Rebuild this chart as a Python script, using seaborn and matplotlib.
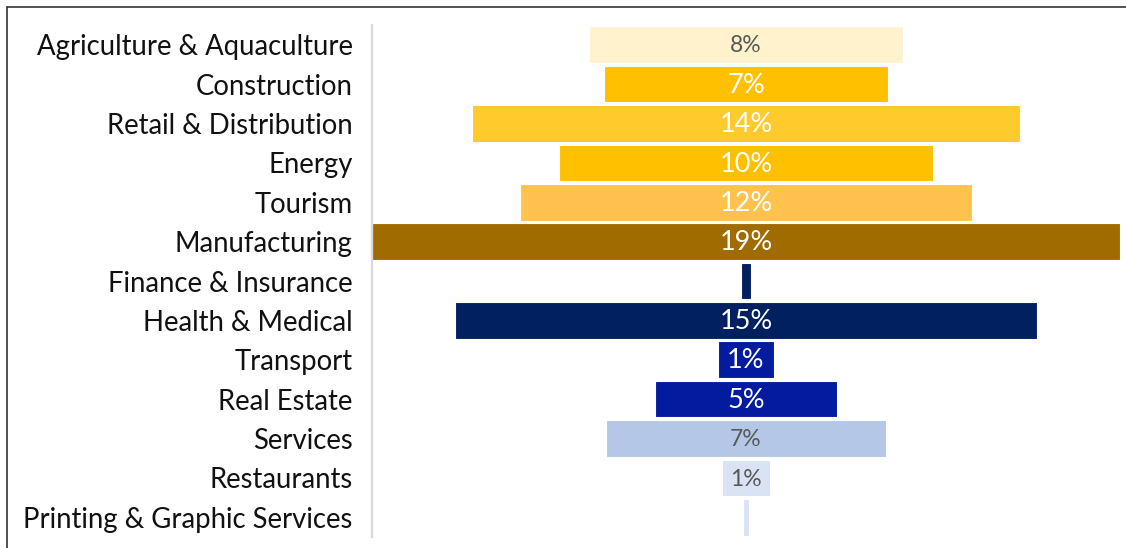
import matplotlib
matplotlib.use("Agg")
import matplotlib.pyplot as plt
from matplotlib.lines import Line2D
import seaborn as sns
import pandas as pd

# Share of businesses by industry (%)
industries = [
    "Agriculture & Aquaculture", "Construction", "Retail & Distribution", "Energy",
    "Tourism", "Manufacturing", "Finance & Insurance", "Health & Medical",
    "Transport", "Real Estate", "Services", "Restaurants",
    "Printing & Graphic Services",
]
shares = [8.0, 7.2, 13.9, 9.5, 11.5, 19.0, 0.25, 14.8, 1.4, 4.6, 7.1, 1.2, 0.15]
bar_colors = [
    "#FFF2CC", "#FFC000", "#FFCA2C", "#FFC000", "#FFC24C", "#A06B00",
    "#002060", "#002060", "#031B9E", "#031B9E", "#B4C7E7", "#DAE3F3", "#DAE3F3",
]
# labels are only printed on bars wide enough to hold them
show_label = [True, True, True, True, True, True, False, True, True, True, True, True, False]
light_bars = {"#FFF2CC", "#B4C7E7", "#DAE3F3"}

df = pd.DataFrame({"industry": industries, "share": shares})

sns.set_theme(style="white")
plt.rcParams["font.family"] = ["Lato", "DejaVu Sans"]

fig = plt.figure(figsize=(11.26, 5.48), dpi=100)
ax = fig.add_axes([372 / 1126, 11 / 548, 748 / 1126, 512 / 548])

sns.barplot(
    data=df, x="share", y="industry", hue="industry", palette=bar_colors,
    order=industries, hue_order=industries, legend=False, width=0.93,
    saturation=1, edgecolor="white", linewidth=0.8, ax=ax,
)

# centre every bar on zero to get the funnel shape
for patch in ax.patches:
    patch.set_x(-patch.get_width() / 2)

ax.set_xlim(-max(shares) / 2, max(shares) / 2)
ax.set_ylim(len(industries) - 0.5, -0.5)
ax.set_xlabel("")
ax.set_ylabel("")
ax.set_xticks([])
ax.tick_params(axis="y", length=0, pad=14, labelsize=19.8, labelcolor="#111111")

for side in ("top", "right", "bottom"):
    ax.spines[side].set_visible(False)
ax.spines["left"].set_color("#D9D9D9")
ax.spines["left"].set_linewidth(1.6)

for i, (val, col, show) in enumerate(zip(shares, bar_colors, show_label)):
    if not show:
        continue
    light = col in light_bars
    ax.text(
        0, i + 0.03, f"{val:.0f}%", ha="center", va="center",
        color="#595959" if light else "white",
        fontsize=16.5 if light else 19.5,
    )

# thin frame along the top and left edges of the figure
fig.add_artist(Line2D([7 / 1126, 1], [1 - 7 / 548, 1 - 7 / 548], color="#333333", lw=1.2,
                      transform=fig.transFigure))
fig.add_artist(Line2D([7 / 1126, 7 / 1126], [0, 1 - 7 / 548], color="#333333", lw=1.2,
                      transform=fig.transFigure))

fig.savefig("out.png", dpi=100)
